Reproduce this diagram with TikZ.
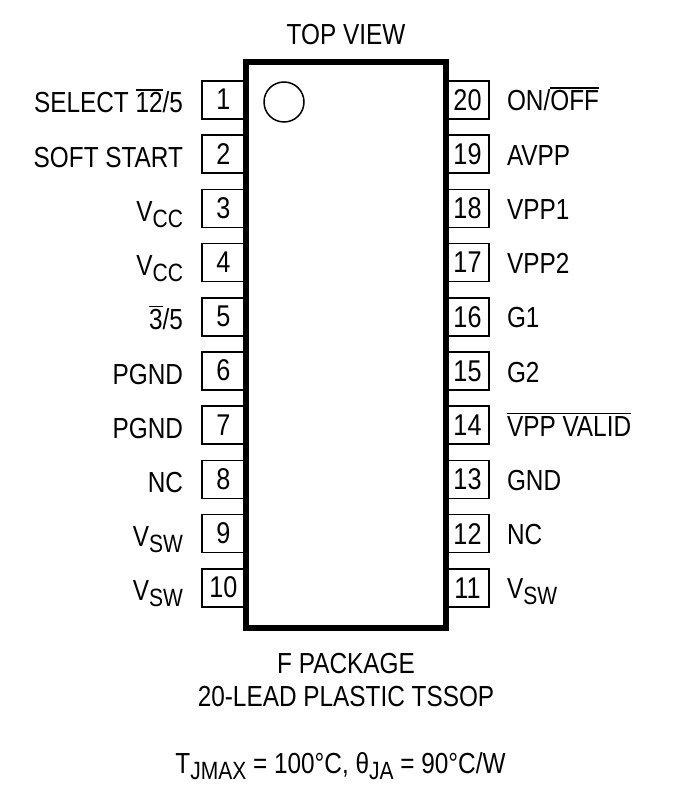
\documentclass[tikz,border=0pt]{standalone}
\usepackage{fontspec}
\setmainfont[FakeStretch=0.84]{Liberation Sans}
\newcommand{\ovbar}[1]{\leavevmode\vbox{\hrule height 1.3pt\kern 2.2pt\hbox{#1}}}
\newcommand{\subs}[1]{\raisebox{-6pt}{\fontsize{25}{30}\selectfont #1}}
\tikzset{
 x=1pt,y=-1pt,
 every node/.style={font=\fontsize{29}{35}\selectfont,inner sep=0pt,outer sep=0pt},
 pinbox/.style={draw=black,line width=1.7pt,fill=white,minimum width=43pt,minimum height=38pt,font=\fontsize{30}{35}\selectfont},
 rpinbox/.style={pinbox},
 chip/.style={draw=black,line width=6pt,fill=white,minimum width=200pt,minimum height=566pt},
 dot/.style={circle,draw=black,line width=1.5pt,minimum size=40pt},
 llabel/.style={anchor=base east},
 rlabel/.style={anchor=base west},
 clabel/.style={anchor=base},
}
\begin{document}
\begin{tikzpicture}
\useasboundingbox (0,0) rectangle (687,802);
% left pins
\foreach \n in {1,...,10}{
  \node[pinbox] (p\n) at (223.5,{100+54.2*(\n-1)}) {\raisebox{1pt}{\n}};
}
% right pins
\foreach \n/\k in {20/0,19/1,18/2,17/3,16/4,15/5,14/6,13/7,12/8,11/9}{
  \node[rpinbox] (p\n) at (467.5,{100+54.2*\k}) {\raisebox{-1pt}{\n}};
}
\node[chip] (ic) at (345.5,345) {};
\node[dot] (mark) at (284,102) {};
% left labels
\foreach \k/\t in {0/{SELECT \ovbar{12}/5},1/{SOFT START},2/{V\subs{CC}},3/{V\subs{CC}},4/{\ovbar{3}/5},5/{PGND},6/{PGND},7/{NC},8/{V\subs{SW}},9/{V\subs{SW}}}{
  \node[llabel] (l\k) at (183,{113+54.2*\k}) {\t};
}
% right labels
\foreach \k/\t in {0/{ON/\ovbar{OFF}},1/{AVPP},2/{VPP1},3/{VPP2},4/{G1},5/{G2},6/{\ovbar{VPP VALID}},7/{GND},8/{NC},9/{V\subs{SW}}}{
  \node[rlabel] (r\k) at (507,{111+54.2*\k}) {\t};
}
\node[clabel] (top) at (346,45) {TOP VIEW};
\node[clabel] (pkg) at (346,673) {F PACKAGE};
\node[clabel] (lead) at (346,706) {20-LEAD PLASTIC TSSOP};
\node[clabel] (therm) at (340.5,773) {T\subs{JMAX} = 100°C, θ\subs{JA} = 90°C/W};
\end{tikzpicture}
\end{document}
